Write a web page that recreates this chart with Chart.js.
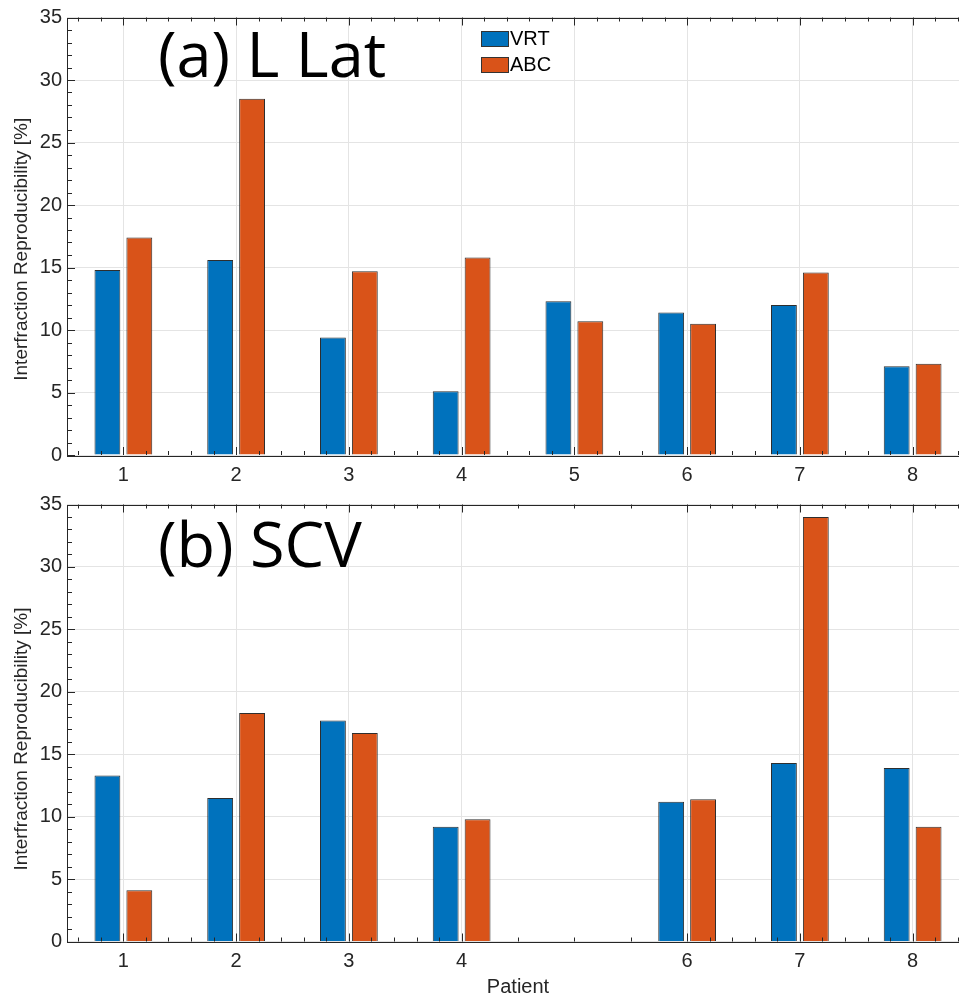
<!DOCTYPE html>
<html>
<head>
<meta charset="utf-8">
<script src="https://cdn.jsdelivr.net/npm/chart.js@4.4.1/dist/chart.umd.min.js"></script>
<style>
body{margin:0;background:#fff;}
#wrap{position:relative;width:959px;height:999px;overflow:hidden;}
canvas{position:absolute;left:0;}
</style>
</head>
<body>
<div id="wrap">
<canvas id="chartA" width="970" height="490" style="top:0px"></canvas>
<canvas id="chartB" width="970" height="512" style="top:487px"></canvas>
</div>
<script>
// values
const llatPatients = [1, 2, 3, 4, 5, 6, 7, 8];
const llatVRT = [14.8, 15.6, 9.4, 5.1, 12.3, 11.4, 12.0, 7.1];
const llatABC = [17.4, 28.5, 14.7, 15.8, 10.7, 10.5, 14.6, 7.3];

const scvPatients = [1, 2, 3, 4, 6, 7, 8];
const scvVRT = [13.3, 11.5, 17.7, 9.2, 11.2, 14.3, 13.9];
const scvABC = [4.1, 18.3, 16.7, 9.8, 11.4, 34.0, 9.2];

const yTicks = [0, 5, 10, 15, 20, 25, 30, 35];
const seriesNames = ['VRT', 'ABC'];
const yLabel = 'Interfraction Reproducibility [%]';
const blue = '#0072BD';
const orange = '#D95319';
const axisColor = '#262626';
const fontFam = '"Liberation Sans", Arial';

function xMinor(majors, lo, hi) {
    let out = [];
    for (let v = majors[0] - 0.2; v > lo + 1e-6; v -= 0.2) out.push(v);
    for (let i = 0; i < majors.length - 1; i++) {
        let gap = majors[i + 1] - majors[i];
        let n = gap > 1 ? 4 : 5;
        for (let k = 1; k < n; k++) out.push(majors[i] + gap * k / n);
    }
    for (let v = majors[majors.length - 1] + 0.2; v < hi - 1e-6; v += 0.2) out.push(v);
    return out;
}

function yMinor() {
    let out = [];
    for (let v = 1; v < 35; v++) if (v % 5 != 0) out.push(v);
    return out;
}

// inward ticks on all sides + the box, like matlab
const boxTicks = {
    id: 'boxTicks',
    afterDatasetsDraw(chart, args, opts) {
        const ctx = chart.ctx;
        const a = chart.chartArea;
        const x = chart.scales.x, y = chart.scales.y;
        ctx.save();
        ctx.strokeStyle = axisColor;
        ctx.lineWidth = 1;
        ctx.beginPath();
        const xt = (v, len) => {
            let px = Math.round(x.getPixelForValue(v)) + 0.5;
            ctx.moveTo(px, a.bottom); ctx.lineTo(px, a.bottom - len);
            ctx.moveTo(px, a.top); ctx.lineTo(px, a.top + len);
        };
        const yt = (v, len) => {
            let py = Math.round(y.getPixelForValue(v)) + 0.5;
            ctx.moveTo(a.left, py); ctx.lineTo(a.left + len, py);
            ctx.moveTo(a.right, py); ctx.lineTo(a.right - len, py);
        };
        opts.majors.forEach(v => xt(v, 8));
        xMinor(opts.majors, 0.5, 8.5).forEach(v => xt(v, 4));
        yTicks.forEach(v => yt(v, 8));
        yMinor().forEach(v => yt(v, 5));
        ctx.stroke();
        ctx.strokeRect(Math.round(a.left) + 0.5, Math.round(a.top) + 0.5,
            Math.round(a.right - a.left), Math.round(a.bottom - a.top));
        ctx.restore();
    }
};

const panelText = {
    id: 'panelText',
    afterDatasetsDraw(chart, args, opts) {
        const ctx = chart.ctx;
        const a = chart.chartArea;
        ctx.save();
        // y axis label, sits a bit below the middle of the plot in the original
        ctx.save();
        ctx.translate(22, (a.top + a.bottom) / 2 + opts.yShift);
        ctx.rotate(-Math.PI / 2);
        ctx.font = '19px ' + fontFam;
        ctx.fillStyle = axisColor;
        ctx.textAlign = 'center';
        ctx.textBaseline = 'middle';
        ctx.fillText(yLabel, 0, 0);
        ctx.restore();

        ctx.fillStyle = '#000';
        ctx.font = '63px "Open Sans"';
        ctx.textBaseline = 'alphabetic';
        ctx.fillText(opts.label, a.left + 91, a.top + opts.baseline);
        if (opts.legend) {
            ctx.font = '20px ' + fontFam;
            ctx.textBaseline = 'middle';
            chart.data.datasets.forEach((ds, i) => {
                let bx = a.left + 414, by = a.top + 13.5 + i * 26;
                ctx.fillStyle = ds.backgroundColor;
                ctx.fillRect(bx, by, 28, 16);
                ctx.strokeStyle = '#333';
                ctx.strokeRect(bx + 0.5, by + 0.5, 27, 15);
                ctx.fillStyle = '#000';
                ctx.fillText(ds.label, bx + 29, by + 8.5);
            });
        }
        ctx.restore();
    }
};

function makeChart(id, patients, vrt, abc, label, baseline, legend, xTitle, xHeight, yShift) {
    const ctx = document.getElementById(id).getContext('2d');
    return new Chart(ctx, {
        type: 'bar',
        data: {
            datasets: [{
                label: seriesNames[0],
                data: patients.map((p, i) => ({x: p, y: vrt[i]})),
                backgroundColor: blue,
                borderColor: '#2e2e2e',
                borderWidth: 1
            }, {
                label: seriesNames[1],
                data: patients.map((p, i) => ({x: p, y: abc[i]})),
                backgroundColor: orange,
                borderColor: '#2e2e2e',
                borderWidth: 1
            }]
        },
        options: {
            responsive: false,
            animation: false,
            categoryPercentage: 0.566,
            barPercentage: 0.81,
            layout: {padding: {top: 17.5, right: 1, left: 0, bottom: 0}},
            plugins: {
                legend: {display: false},
                tooltip: {enabled: false},
                boxTicks: {majors: patients},
                panelText: {label: label, baseline: baseline, legend: legend, yShift: yShift}
            },
            scales: {
                x: {
                    type: 'linear',
                    min: 0.5,
                    max: 8.5,
                    offset: false,
                    afterBuildTicks: (s) => { s.ticks = patients.map(v => ({value: v})); },
                    afterFit: (s) => { s.height = xHeight; },
                    grid: {offset: false, color: '#e4e4e4', drawTicks: false},
                    border: {display: false},
                    ticks: {
                        padding: 8,
                        color: axisColor,
                        font: {family: fontFam, size: 20}
                    },
                    title: {
                        display: xTitle,
                        text: 'Patient',
                        color: axisColor,
                        padding: {top: 0, bottom: 0},
                        font: {family: fontFam, size: 20}
                    }
                },
                y: {
                    min: 0,
                    max: 35,
                    afterBuildTicks: (s) => { s.ticks = yTicks.map(v => ({value: v})); },
                    afterFit: (s) => { s.width = 67; },
                    grid: {color: '#e4e4e4', drawTicks: false},
                    border: {display: false},
                    ticks: {
                        padding: 5,
                        color: axisColor,
                        font: {family: fontFam, size: 20}
                    }
                }
            }
        },
        plugins: [boxTicks, panelText]
    });
}

makeChart('chartA', llatPatients, llatVRT, llatABC, '(a) L Lat', 59.5, true, false, 35, 13);
makeChart('chartB', scvPatients, scvVRT, scvABC, '(b) SCV', 62, false, true, 57.5, 16);
</script>
</body>
</html>
